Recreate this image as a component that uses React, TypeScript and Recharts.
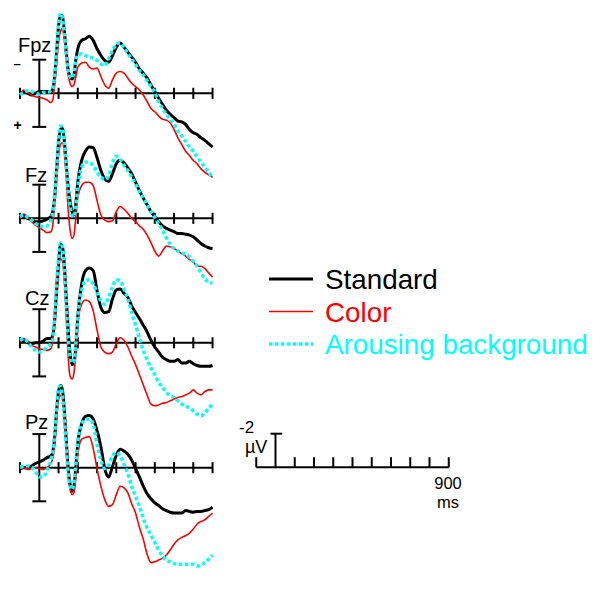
import { LineChart, Line, XAxis, YAxis, ReferenceLine } from 'recharts';

// sample times (ms), denser around the early peaks
const times = [
  -100, -80, -60, -40, -20, 0, 20, 40,
  60, 70, 80, 90, 100, 110, 120, 130, 140, 150, 160, 170, 180, 190, 200,
  220, 240, 260, 280, 300, 320, 340, 360, 380, 400,
  420, 440, 460, 480, 500, 520, 540, 560, 580, 600,
  620, 640, 660, 680, 700, 720, 740, 760, 780, 800,
  820, 840, 860, 880, 900,
];

// amplitudes in µV (negative up)
const fpzStandard = [
  0.1, -0.1, 0, 0.1, 0, -0.1, -0.1, -0.1,
  -0.1, -0.25, -1.0, -2.45, -4.0, -4.65, -4.6, -3.7, -2.45, -1.4, -1.0, -0.85, -1.1, -2.0, -2.65,
  -3.15, -3.25, -3.4, -3.15, -2.65, -2.25, -1.95, -1.85, -2.25, -2.75,
  -3.0, -2.75, -2.45, -2.15, -1.85, -1.45, -1.2, -0.9, -0.5, -0.1,
  0.3, 0.65, 1.0, 1.25, 1.45, 1.65, 1.7, 1.85, 2.15, 2.35,
  2.45, 2.65, 2.8, 3.0, 3.2,
];
const fpzColor = [
  0.1, -0.2, -0.05, 0.1, 0.2, 0.25, 0.3, 0.4,
  0.55, 0.4, -0.5, -1.85, -3.05, -3.7, -3.85, -3.25, -2.05, -1.1, -0.6, -0.4, -0.5, -1.0, -1.55,
  -1.8, -1.85, -1.55, -1.45, -1.5, -1.0, -0.5, -0.3, -0.8, -1.2,
  -1.3, -1.2, -0.9, -0.6, -0.4, -0.2, 0.1, 0.5, 0.9, 1.1,
  1.35, 1.55, 1.6, 1.75, 2.15, 2.65, 3.05, 3.45, 3.7, 4.0,
  4.2, 4.5, 4.7, 4.85, 5.0,
];
const fpzArousing = [
  0.1, -0.05, -0.15, -0.1, 0, 0.05, -0.05, -0.05,
  -0.15, -0.3, -1.1, -2.65, -4.1, -4.75, -4.5, -3.6, -2.35, -1.35, -1.0, -0.9, -1.3, -1.95, -2.3,
  -2.35, -2.25, -2.15, -2.1, -1.95, -1.75, -1.65, -2.05, -2.55, -2.9,
  -3.0, -2.75, -2.35, -2.05, -1.7, -1.35, -1.1, -0.75, -0.4, -0.05,
  0.5, 0.9, 1.25, 1.55, 1.85, 2.25, 2.55, 2.85, 3.2, 3.45,
  3.8, 4.1, 4.4, 4.7, 5.0,
];

const fzStandard = [
  0, -0.1, 0, 0.1, 0.2, 0.2, 0.15, 0.05,
  -0.1, -0.4, -1.25, -2.85, -4.5, -5.3, -5.35, -4.6, -3.2, -1.85, -1.0, -0.4, -0.2, -0.9, -2.15,
  -3.45, -4.0, -4.25, -4.2, -3.6, -2.85, -2.35, -2.2, -2.65, -3.25,
  -3.45, -3.3, -3.0, -2.65, -2.15, -1.65, -1.2, -0.8, -0.4, -0.1,
  0.2, 0.45, 0.6, 0.7, 0.8, 0.9, 0.9, 0.95, 1.0, 1.1,
  1.3, 1.5, 1.65, 1.75, 1.8,
];
const fzColor = [
  0, -0.25, -0.05, 0.2, 0.4, 0.55, 0.7, 0.85,
  0.8, 0.4, -0.9, -2.45, -3.8, -4.4, -4.5, -3.9, -2.45, -0.5, 0.7, 1.2, 1.0, -0.1, -1.25,
  -1.95, -2.15, -2.15, -1.95, -1.05, -0.2, 0.1, 0.2, 0.15, -0.4,
  -0.7, -0.55, -0.3, 0, 0.2, 0.45, 0.65, 1.0, 1.45, 1.95,
  2.25, 1.95, 1.65, 1.7, 1.8, 1.95, 2.1, 2.25, 2.45, 2.6,
  2.85, 2.85, 3.0, 3.25, 3.5,
];
const fzArousing = [
  -0.1, -0.2, -0.05, 0.1, 0.3, 0.45, 0.5, 0.45,
  0.1, -0.3, -1.4, -3.0, -4.7, -5.5, -5.4, -4.5, -3.15, -1.65, -0.7, -0.2, -0.1, -0.7, -1.85,
  -3.05, -3.35, -3.3, -3.15, -2.75, -2.45, -2.3, -2.55, -3.3, -3.7,
  -3.5, -3.15, -2.85, -2.45, -2.05, -1.55, -1.2, -0.8, -0.4, -0.05,
  0.3, 0.7, 1.15, 1.55, 1.8, 1.95, 2.05, 2.15, 2.3, 2.55,
  2.85, 3.25, 3.6, 3.8, 3.85,
];

const czStandard = [
  -0.05, -0.1, 0, 0.05, 0, 0, -0.1, -0.25,
  -0.25, -0.45, -1.35, -3.1, -4.65, -5.85, -5.75, -4.65, -2.7, -0.75, 0.65, 1.3, 1.2, 0.25, -1.55,
  -3.5, -4.3, -4.45, -4.3, -3.1, -2.1, -1.8, -1.85, -2.6, -3.15,
  -3.2, -2.95, -2.7, -2.2, -1.8, -1.45, -1.05, -0.65, -0.15, 0.25,
  0.55, 0.85, 1.0, 1.1, 1.1, 1.0, 1.2, 1.2, 1.1, 1.25,
  1.35, 1.4, 1.4, 1.4, 1.35,
];
const czColor = [
  -0.05, -0.25, -0.05, 0.15, 0.25, 0.35, 0.4, 0.45,
  0.35, -0.15, -1.9, -3.9, -4.85, -5.0, -4.85, -3.7, -1.55, 0.8, 2.0, 2.15, 1.8, 0.45, -1.15,
  -2.3, -2.55, -2.45, -1.9, -0.75, 0.25, 0.55, 0.65, 0.55, 0.05,
  -0.3, -0.15, 0.25, 0.8, 1.3, 1.9, 2.5, 3.1, 3.65, 3.75,
  3.7, 3.6, 3.55, 3.45, 3.35, 3.25, 3.2, 3.1, 3.0, 2.8,
  3.0, 3.1, 2.9, 2.8, 2.8,
];
const czArousing = [
  -0.15, -0.25, -0.05, 0.25, 0.45, 0.55, 0.45, 0.25,
  0.05, -0.25, -1.55, -3.5, -5.05, -5.95, -5.75, -4.45, -2.3, -0.25, 0.8, 1.2, 1.1, 0.05, -1.55,
  -3.1, -3.7, -3.75, -3.5, -3.0, -2.5, -2.3, -2.7, -3.3, -3.75,
  -3.7, -3.2, -2.6, -1.8, -1.05, -0.3, 0.45, 1.0, 1.5, 1.9,
  2.35, 2.65, 2.95, 3.15, 3.25, 3.45, 3.65, 3.75, 3.9, 4.05,
  4.25, 4.35, 4.15, 3.9, 3.65,
];

const pzStandard = [
  0.05, 0, 0, -0.1, -0.25, -0.35, -0.45, -0.6,
  -0.7, -0.95, -1.8, -3.4, -4.55, -4.9, -4.65, -3.4, -1.65, 0.05, 1.0, 1.4, 1.1, -0.05, -1.45,
  -2.6, -3.05, -3.1, -2.9, -2.2, -1.25, 0.05, 0.55, -0.05, -0.75,
  -1.1, -1.0, -0.8, -0.45, 0.05, 0.55, 1.1, 1.55, 1.85, 2.1,
  2.25, 2.45, 2.55, 2.65, 2.7, 2.7, 2.7, 2.55, 2.6, 2.65,
  2.6, 2.6, 2.55, 2.5, 2.35,
];
const pzColor = [
  0.05, 0, 0.1, 0.05, 0, 0.05, 0.1, 0,
  -0.25, -0.55, -1.4, -3.0, -4.1, -4.3, -4.1, -2.8, -1.05, 0.55, 1.3, 1.6, 1.5, 0.55, -0.75,
  -1.7, -1.8, -1.85, -1.15, 0.05, 1.1, 1.9, 2.3, 2.2, 1.6,
  1.1, 1.2, 1.5, 2.15, 2.7, 3.55, 4.25, 5.15, 5.65, 5.6,
  5.5, 5.4, 5.2, 4.9, 4.55, 4.3, 4.15, 4.05, 3.9, 3.65,
  3.35, 3.2, 3.1, 2.9, 2.7,
];
const pzArousing = [
  -0.05, -0.05, -0.1, -0.05, 0.25, 0.55, 0.55, 0.15,
  -0.45, -0.95, -2.0, -3.6, -4.75, -4.85, -4.3, -3.0, -1.25, 0.35, 1.1, 1.3, 0.9, -0.25, -1.6,
  -2.6, -2.85, -2.9, -2.6, -1.4, -0.45, 0.05, -0.15, -0.7, -0.9,
  -0.7, -0.2, 0.35, 1.1, 1.7, 2.3, 3.0, 3.6, 4.0, 4.45,
  4.9, 5.25, 5.5, 5.6, 5.7, 5.75, 5.75, 5.75, 5.75, 5.75,
  5.85, 5.8, 5.65, 5.45, 5.2,
];

const electrodes = ['Fpz', 'Fz', 'Cz', 'Pz'];
const conditions = ['Standard', 'Color', 'Arousing background'];
const waves = [
  [fpzStandard, fpzColor, fpzArousing],
  [fzStandard, fzColor, fzArousing],
  [czStandard, czColor, czArousing],
  [pzStandard, pzColor, pzArousing],
];

// axis ticks (ms) and calibration bar
const epochMs = [-100, 900];
const tickMs = [-100, 100, 200, 300, 400, 500, 600, 700, 800, 900];
const barUv = 2;

// layout
const W = 600;
const H = 590;
const MS_PX = 0.1925;
const UV_PX = 16.8;
const PANEL_ZERO_X = 39.3;
const BAR_ZERO_X = 275.5;
const baselines = [93.3, 218.3, 342.8, 467.7];
const BAR_BASE = 467.3;

const styles = [
  { stroke: '#000000', strokeWidth: 3, dash: undefined },
  { stroke: '#ff0000', strokeWidth: 1.6, dash: undefined },
  { stroke: '#00ffff', strokeWidth: 3.5, dash: '3.5 2.5' },
];

const xDomain = (zeroX: number) => [-zeroX / MS_PX, (W - zeroX) / MS_PX];
const yDomain = (base: number) => [-base / UV_PX, (H - base) / UV_PX];

const data = times.map((t, i) => {
  const row: Record<string, number> = { t };
  electrodes.forEach((e, ei) => {
    conditions.forEach((_c, ci) => {
      row[`${e}_${ci}`] = waves[ei][ci][i];
    });
  });
  return row;
});

const font = '"Liberation Sans", Arial, sans-serif';
const axisStroke = { stroke: '#000', strokeWidth: 2 };

const labelPos = [
  { x: 18, y: 51.5 },
  { x: 25, y: 181.5 },
  { x: 25, y: 305 },
  { x: 25, y: 429 },
];

export default function App() {
  return (
    <div style={{ position: 'absolute', left: 0, top: 0, width: W, height: H, background: '#fff' }}>
      <LineChart width={W} height={H} data={data} margin={{ top: 0, right: 0, bottom: 0, left: 0 }}>
        <XAxis xAxisId="main" dataKey="t" type="number" domain={xDomain(PANEL_ZERO_X)} allowDataOverflow hide />
        <XAxis xAxisId="bar" dataKey="t" type="number" domain={xDomain(BAR_ZERO_X)} allowDataOverflow hide />
        {electrodes.map((e, ei) => (
          <YAxis key={e} yAxisId={e} type="number" domain={yDomain(baselines[ei])} allowDataOverflow reversed hide />
        ))}
        <YAxis yAxisId="bar" type="number" domain={yDomain(BAR_BASE)} allowDataOverflow reversed hide />

        {electrodes.map((e) => [
          <ReferenceLine key={`${e}-axis`} xAxisId="main" yAxisId={e} ifOverflow="visible"
            segment={[{ x: epochMs[0], y: 0 }, { x: epochMs[1], y: 0 }]} {...axisStroke} />,
          ...tickMs.map((tk) => (
            <ReferenceLine key={`${e}-tick-${tk}`} xAxisId="main" yAxisId={e} ifOverflow="visible"
              segment={[{ x: tk, y: -0.33 }, { x: tk, y: 0.33 }]} {...axisStroke} />
          )),
          <ReferenceLine key={`${e}-vbar`} xAxisId="main" yAxisId={e} ifOverflow="visible"
            segment={[{ x: 0, y: -barUv }, { x: 0, y: barUv }]} {...axisStroke} />,
          <ReferenceLine key={`${e}-cap1`} xAxisId="main" yAxisId={e} ifOverflow="visible"
            segment={[{ x: -36, y: -barUv }, { x: 36, y: -barUv }]} {...axisStroke} />,
          <ReferenceLine key={`${e}-cap2`} xAxisId="main" yAxisId={e} ifOverflow="visible"
            segment={[{ x: -36, y: barUv }, { x: 36, y: barUv }]} {...axisStroke} />,
        ])}

        {/* calibration bar */}
        <ReferenceLine xAxisId="bar" yAxisId="bar" ifOverflow="visible"
          segment={[{ x: epochMs[0], y: 0 }, { x: epochMs[1], y: 0 }]} {...axisStroke} />
        {tickMs.map((tk) => (
          <ReferenceLine key={`bar-tick-${tk}`} xAxisId="bar" yAxisId="bar" ifOverflow="visible"
            segment={[{ x: tk, y: 0 }, { x: tk, y: -0.6 }]} {...axisStroke} />
        ))}
        <ReferenceLine xAxisId="bar" yAxisId="bar" ifOverflow="visible"
          segment={[{ x: 0, y: 0 }, { x: 0, y: -barUv }]} {...axisStroke} />
        <ReferenceLine xAxisId="bar" yAxisId="bar" ifOverflow="visible"
          segment={[{ x: -26, y: -barUv }, { x: 35, y: -barUv }]} {...axisStroke} />

        {electrodes.map((e) =>
          conditions.map((c, ci) => (
            <Line
              key={`${e}_${ci}`}
              xAxisId="main"
              yAxisId={e}
              dataKey={`${e}_${ci}`}
              name={c}
              type="monotone"
              dot={false}
              activeDot={false}
              stroke={styles[ci].stroke}
              strokeWidth={styles[ci].strokeWidth}
              strokeDasharray={styles[ci].dash}
              isAnimationActive={false}
            />
          ))
        )}
      </LineChart>

      <svg width={W} height={H} style={{ position: 'absolute', left: 0, top: 0, pointerEvents: 'none' }}>
        <g fontFamily={font} fill="#000">
          {electrodes.map((e, ei) => (
            <text key={e} x={labelPos[ei].x} y={labelPos[ei].y} fontSize={20}>{e}</text>
          ))}
          <text x={13.5} y={67.5} fontSize={13} fontWeight="bold">–</text>
          <text x={13.5} y={129.8} fontSize={14} fontWeight="bold">+</text>

          <text x={239} y={433.3} fontSize={17}>-2</text>
          <text x={245} y={452.5} fontSize={18}>µV</text>
          <text x={448} y={489} fontSize={16.5} textAnchor="middle">900</text>
          <text x={448} y={507.5} fontSize={16.5} textAnchor="middle">ms</text>
        </g>

        {conditions.map((c, ci) => {
          const y = 279 + ci * 32.5;
          return (
            <g key={c}>
              <line x1={269} x2={313} y1={y} y2={y} stroke={styles[ci].stroke}
                strokeWidth={styles[ci].strokeWidth} strokeDasharray={styles[ci].dash} />
              <text x={325} y={y + 10.3} fontSize={27.8} fontFamily={font} fill={styles[ci].stroke}>{c}</text>
            </g>
          );
        })}
      </svg>
    </div>
  );
}
